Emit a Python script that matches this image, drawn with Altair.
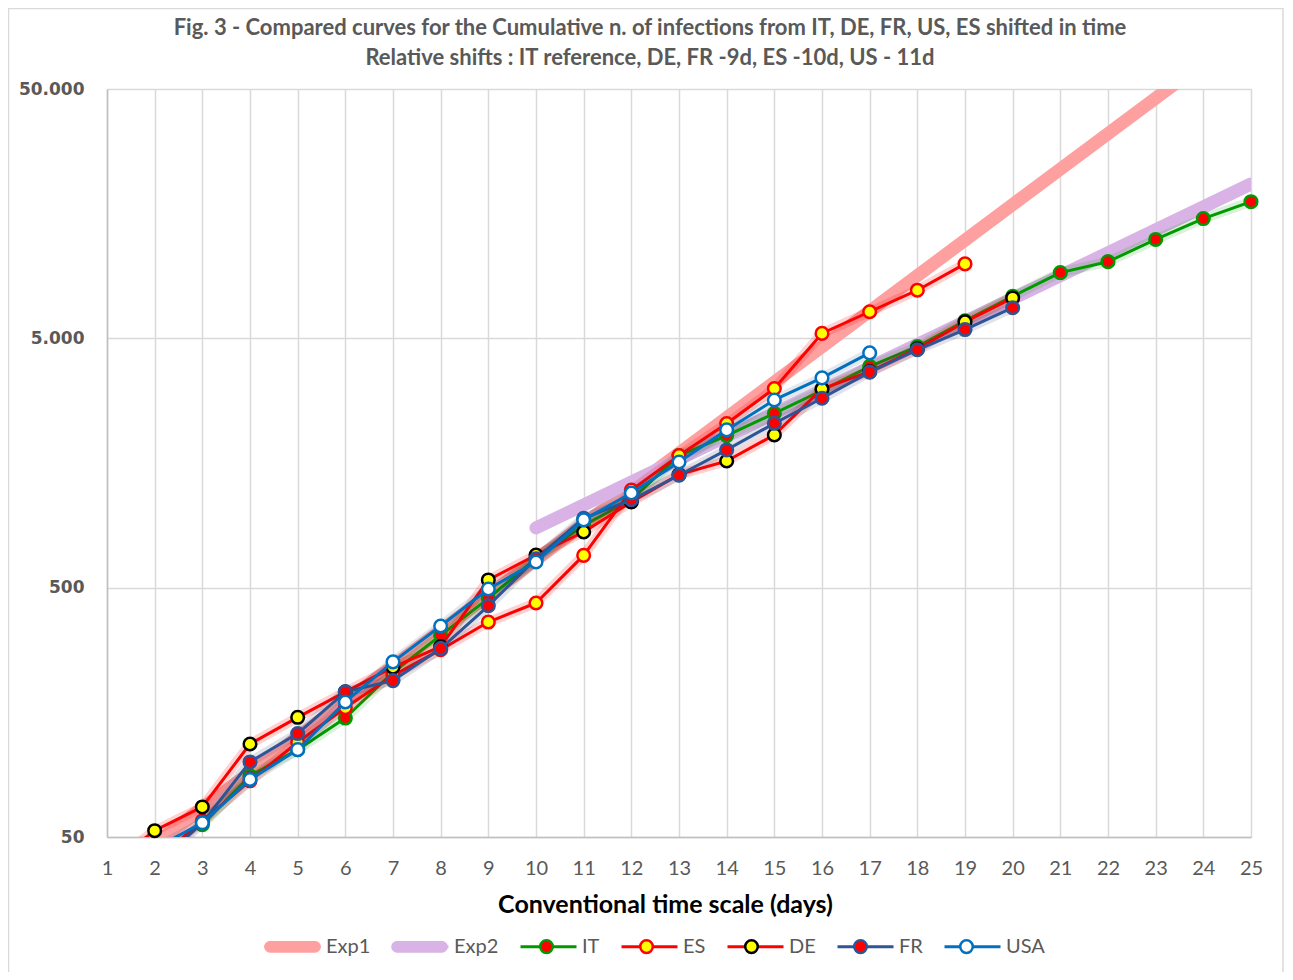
import altair as alt
import pandas as pd

# ---------------- data ----------------
SERIES = ["Exp1", "Exp2", "IT", "ES", "DE", "FR", "USA"]

EXP1_DAYS = [2, 25]
EXP1_VALUES = [47, 88500]
EXP2_DAYS = [10, 25]
EXP2_VALUES = [868, 20800]

IT_DAYS = list(range(3, 26))
IT_VALUES = [56, 88, 112, 150, 229, 322, 453, 655, 888, 1128, 1694, 2036,
             2502, 3089, 3858, 4636, 5883, 7375, 9172, 10149, 12462, 15113, 17660]
ES_DAYS = list(range(2, 20))
ES_VALUES = [40, 58, 84, 120, 165, 222, 282, 364, 434, 674, 1231, 1695,
             2277, 3146, 5232, 6391, 7798, 9942]
DE_DAYS = list(range(1, 21))
DE_VALUES = [38, 53, 66, 118, 151, 191, 240, 290, 537, 676, 836, 1104,
             1420, 1611, 2049, 3133, 3675, 4535, 5820, 7261]
FR_DAYS = list(range(2, 21))
FR_VALUES = [38, 57, 100, 130, 191, 212, 285, 423, 653, 949, 1126, 1412,
             1784, 2281, 2876, 3661, 4499, 5423, 6633]
USA_DAYS = list(range(2, 18))
USA_VALUES = [45, 57, 85, 112, 174, 252, 351, 494, 634, 935, 1199, 1596,
              2146, 2830, 3469, 4370]

X_TICKS = list(range(1, 26))
Y_TICKS = [50, 500, 5000, 50000]
Y_TICK_LABELS = ["50", "500", "5.000", "50.000"]

TITLE = ["Fig. 3 - Compared curves for the Cumulative n. of infections from IT, DE, FR, US, ES shifted in time",
         "Relative shifts : IT reference, DE, FR -9d, ES -10d, US - 11d"]
X_TITLE = "Conventional time scale (days)"

# ---------------- styles ----------------
LINE_COLORS = ["#FFA0A0", "#DAB3E6", "#009900", "#FF0000", "#FF0000", "#2F5597", "#0070C0"]
FILL_COLORS = ["#FFA0A0", "#DAB3E6", "#FF0000", "#FFFF00", "#FFFF00", "#FF0000", "#FFFFFF"]
EDGE_COLORS = ["transparent", "transparent", "#009900", "#FF0000", "#000000", "#2F5597", "#0070C0"]
GLOW = {"IT": ("#00A000", 0.15), "ES": ("#FF0000", 0.18), "DE": ("#FF0000", 0.18),
        "FR": ("#1F3864", 0.14), "USA": ("#1F3864", 0.12)}

# circle marker (with invisible zero-length end points so legend entries are as wide as line symbols)
CIRCLE_PATH = "M-1.01,0L-1.01,0M1.01,0L1.01,0M0.225,0A0.225,0.225,0,1,1,-0.225,0A0.225,0.225,0,1,1,0.225,0Z"
BAR_PATH = "M-0.8,-0.21H0.8A0.21,0.21,0,0,1,0.8,0.21H-0.8A0.21,0.21,0,0,1,-0.8,-0.21Z"
SHAPES = [BAR_PATH, BAR_PATH] + [CIRCLE_PATH] * 5

rows = []
for name, days, vals in [("Exp1", EXP1_DAYS, EXP1_VALUES), ("Exp2", EXP2_DAYS, EXP2_VALUES),
                         ("IT", IT_DAYS, IT_VALUES), ("ES", ES_DAYS, ES_VALUES),
                         ("DE", DE_DAYS, DE_VALUES), ("FR", FR_DAYS, FR_VALUES),
                         ("USA", USA_DAYS, USA_VALUES)]:
    for d, v in zip(days, vals):
        rows.append({"series": name, "series_pt": name + "_", "day": d, "value": v})
df = pd.DataFrame(rows)

PLOT_W, PLOT_H = 1144, 748
LEG_X, LEG_Y = 156, 828
SYM = 3136  # 56 px wide legend symbols

y_label_expr = " : ".join(
    [f"datum.value == {v} ? '{t}'" for v, t in zip(Y_TICKS[:-1], Y_TICK_LABELS[:-1])]
) + f" : '{Y_TICK_LABELS[-1]}'"

x_enc = alt.X("day:Q",
              scale=alt.Scale(domain=[1, 25], nice=False, zero=False),
              axis=alt.Axis(values=X_TICKS, title=X_TITLE, grid=True, gridColor="#D9D9D9",
                            gridWidth=1.5, ticks=False, domainColor="#BFBFBF", domainWidth=1.5,
                            labelFont="Lato", labelFontSize=20, labelColor="#595959",
                            labelPadding=21, labelFlush=False, labelOverlap=False,
                            titleFont="Lato", titleFontSize=25, titleFontWeight="bold",
                            titleColor="#000000", titleX=558, titleY=67,
                            titleBaseline="middle", titleAlign="center"))
y_enc = alt.Y("value:Q",
              scale=alt.Scale(type="log", domain=[50, 50000], nice=False),
              axis=alt.Axis(values=Y_TICKS, labelExpr=y_label_expr, title=None, grid=True,
                            gridColor="#D9D9D9", gridWidth=1.5, ticks=False,
                            domainColor="#BFBFBF", domainWidth=1.5,
                            labelFont="DejaVu Sans", labelFontWeight="bold", labelFontSize=17,
                            labelColor="#595959", labelPadding=23))

common_legend = dict(title=None, orient="none", legendX=LEG_X, legendY=LEG_Y,
                     direction="horizontal", symbolSize=SYM, labelFont="Lato",
                     labelFontSize=20, labelColor="#595959", labelOffset=4, columnPadding=15)
line_legend = alt.Legend(symbolType="stroke", symbolStrokeWidth=3, **common_legend)
point_legend = alt.Legend(symbolStrokeWidth=2.5, labelOpacity=0,
                          labelExpr="replace(datum.label, '_', '')", **common_legend)

color_enc = alt.Color("series:N", scale=alt.Scale(domain=SERIES, range=LINE_COLORS),
                      legend=line_legend)
PT_DOMAIN = [s + "_" for s in SERIES]
fill_enc = alt.Fill("series_pt:N", scale=alt.Scale(domain=PT_DOMAIN, range=FILL_COLORS),
                    legend=point_legend)
stroke_enc = alt.Stroke("series_pt:N", scale=alt.Scale(domain=PT_DOMAIN, range=EDGE_COLORS),
                        legend=point_legend)
shape_enc = alt.Shape("series_pt:N", scale=alt.Scale(domain=PT_DOMAIN, range=SHAPES),
                      legend=point_legend)

base = alt.Chart(df)

border = alt.Chart(pd.DataFrame({"k": [0]})).mark_rect(
    fill="transparent", stroke="#D9D9D9", strokeWidth=1.5
).encode(x=alt.value(-98.5), x2=alt.value(1176), y=alt.value(-80.5), y2=alt.value(900))

layers = [border]
layers.append(
    base.transform_filter("datum.series == 'Exp1' || datum.series == 'Exp2'")
    .mark_line(strokeCap="round", clip=True)
    .encode(x=x_enc, y=y_enc, color=color_enc, strokeWidth=alt.value(13))
)
for s in ["IT", "ES", "DE", "FR", "USA"]:
    gcol, gop = GLOW[s]
    sub = base.transform_filter(f"datum.series == '{s}'")
    layers.append(sub.mark_line(color=gcol, opacity=gop, clip=True,
                                strokeCap="round", strokeJoin="round")
                  .encode(x=x_enc, y=y_enc, strokeWidth=alt.value(10)))
    layers.append(sub.mark_line(clip=True, strokeJoin="round")
                  .encode(x=x_enc, y=y_enc, color=color_enc, strokeWidth=alt.value(3)))
    layers.append(sub.transform_filter("datum.value >= 50")
                  .mark_point(filled=True, size=SYM, strokeWidth=2.5, opacity=1)
                  .encode(x=x_enc, y=y_enc, fill=fill_enc, stroke=stroke_enc, shape=shape_enc))

chart = alt.layer(*layers).properties(
    width=PLOT_W, height=PLOT_H,
    title=alt.TitleParams(text=TITLE, font="Lato", fontSize=22, fontWeight="bold",
                          color="#595959", anchor="middle", frame="group", dx=-29,
                          offset=0, dy=62, lineHeight=30),
    autosize=alt.AutoSizeParams(type="none"),
    padding={"left": 99, "top": 81, "right": 34, "bottom": 135},
).configure_view(stroke=None).configure(background="white")

chart.save("out.html", embed_options={"renderer": "svg", "actions": False})
